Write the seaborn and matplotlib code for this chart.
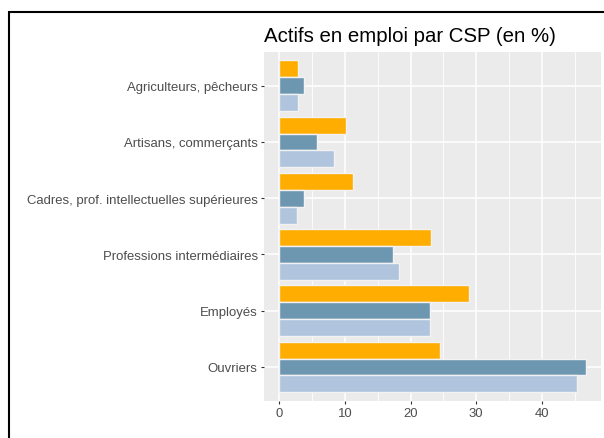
import matplotlib
matplotlib.use("Agg")
import matplotlib.pyplot as plt
import matplotlib.patches as patches
from matplotlib.ticker import MultipleLocator
import pandas as pd
import seaborn as sns

categories = ["Agriculteurs, pêcheurs", "Artisans, commerçants",
              "Cadres, prof. intellectuelles supérieures",
              "Professions intermédiaires", "Employés", "Ouvriers"]
series = ["Série 1", "Série 2", "Série 3"]
serie_1 = [2.9, 10.2, 11.3, 23.1, 28.9, 24.5]
serie_2 = [3.7, 5.8, 3.7, 17.3, 23.0, 46.7]
serie_3 = [2.9, 8.4, 2.7, 18.2, 23.0, 45.3]
colors = ["#FFAD00", "#6D97B1", "#B0C4DE"]

df = pd.DataFrame({
    "csp": categories * 3,
    "serie": [s for s in series for _ in categories],
    "pct": serie_1 + serie_2 + serie_3,
})

sns.set_style("darkgrid", {"axes.facecolor": "#EBEBEB", "grid.color": "white"})
plt.rcParams["font.family"] = ["Liberation Sans", "DejaVu Sans"]

fig = plt.figure(figsize=(6.04, 4.39), dpi=100)
ax = fig.add_axes([264 / 604, 1 - 401.7 / 439, 337 / 604, 348.7 / 439])

sns.barplot(data=df, x="pct", y="csp", hue="serie", order=categories,
            hue_order=series, palette=colors, width=0.9, orient="h",
            edgecolor="#F2F2F2", linewidth=1, saturation=1, legend=False, ax=ax)

ax.set_xlim(-2.33, 49.0)
ax.set_ylim(5.6, -0.6)
ax.xaxis.set_major_locator(MultipleLocator(10))
ax.xaxis.set_minor_locator(MultipleLocator(5))
ax.grid(which="major", color="white", linewidth=1.1)
ax.grid(which="minor", axis="x", color="white", linewidth=0.6)
ax.set_axisbelow(True)
for s in ax.spines.values():
    s.set_visible(False)
ax.set_xlabel("")
ax.set_ylabel("")
ax.tick_params(axis="both", which="major", bottom=True, left=True, length=2.5,
               width=0.8, color="#333333", labelcolor="#4D4D4D", labelsize=9.45, pad=2)
ax.tick_params(axis="both", which="minor", length=0)

fig.text(264 / 604, 1 - 36 / 439, "Actifs en emploi par CSP (en %)",
         fontsize=14.7, color="black", ha="left", va="center")

fig.patches.append(patches.Rectangle((9.3 / 604, -0.1), 1.2, 1 - 12.8 / 439 + 0.1,
                                     transform=fig.transFigure, fill=False,
                                     edgecolor="black", linewidth=1.5))

fig.savefig("out.png", dpi=100)
